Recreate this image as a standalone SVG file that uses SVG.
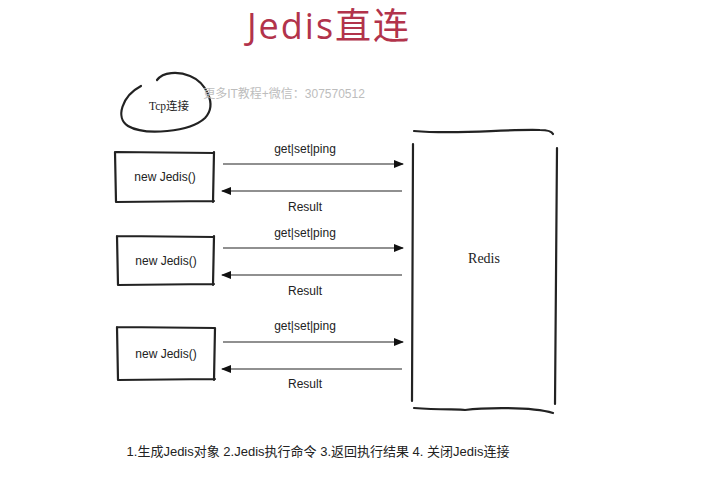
<svg xmlns="http://www.w3.org/2000/svg" width="718" height="485" viewBox="0 0 718 485">
<defs>
<marker id="ah" markerWidth="10" markerHeight="8" refX="9" refY="4" orient="auto" markerUnits="userSpaceOnUse">
<path d="M0,0 L10,4 L0,8 z" fill="#111"/>
</marker>
<style>
.sk{fill:none;stroke:#222;stroke-width:2.2;stroke-linecap:round}
.ln{stroke:#222;stroke-width:1.1;fill:none}
.lbl{font-family:"Helvetica","Liberation Sans",Arial,sans-serif;font-size:12px;fill:#222;text-anchor:middle}
.ser{font-family:"Liberation Serif","Noto Sans CJK SC",serif;fill:#222;text-anchor:middle}
</style>
</defs>
<rect width="718" height="485" fill="#fff"/>
<text x="329" y="39" font-family="'Open Sans','Noto Sans CJK SC',sans-serif" font-size="36" letter-spacing="2" fill="#b2334b" text-anchor="middle">Jedis直连</text>
<g id="tcp">
<path class="sk" d="M141,86 C122,96 115,118 128,126 C145,136 190,132 205,118 C218,104 205,82 190,76 C178,71 163,72 157,80" stroke-width="2.6"/>
<text class="ser" x="169" y="110" font-size="11.5">Tcp连接</text>
</g>
<text x="284" y="98" font-family="'Liberation Sans','Noto Sans CJK SC',sans-serif" font-size="12" fill="#bdbdbd" text-anchor="middle">更多IT教程+微信：307570512</text>
<g id="client1">
<path class="sk" d="M116,152 L214,153 M115,152 L116,202 M214,152 L213,202 M116,202 L214,201"/>
<text class="lbl" x="165" y="181">new Jedis()</text>
</g>
<g id="client2">
<path class="sk" d="M117,236 L214,237 M117,236 L118,285 M214,236 L213,285 M118,285 L214,284"/>
<text class="lbl" x="166" y="265">new Jedis()</text>
</g>
<g id="client3">
<path class="sk" d="M117,327 L215,328 M117,327 L118,380 M215,328 L214,380 M118,380 L215,379"/>
<text class="lbl" x="166" y="358">new Jedis()</text>
</g>
<g id="redis">
<path class="sk" d="M414,131 C460,135 500,129 540,130 C548,130 552,132 553,134"/>
<path class="sk" d="M413,144 L412,401"/>
<path class="sk" d="M557,148 L555,404"/>
<path class="sk" d="M414,408 C440,410 460,409 465,410 C480,408 530,406 553,413"/>
<text class="ser" x="484" y="263" font-size="14">Redis</text>
</g>
<g id="connectors">
<line class="ln" x1="223" y1="164" x2="403" y2="164" marker-end="url(#ah)"/>
<line class="ln" x1="402" y1="191" x2="222" y2="191" marker-end="url(#ah)"/>
<line class="ln" x1="223" y1="248" x2="403" y2="248" marker-end="url(#ah)"/>
<line class="ln" x1="402" y1="275" x2="222" y2="275" marker-end="url(#ah)"/>
<line class="ln" x1="223" y1="342" x2="403" y2="342" marker-end="url(#ah)"/>
<line class="ln" x1="402" y1="369" x2="222" y2="369" marker-end="url(#ah)"/>
<text class="lbl" x="305" y="153">get|set|ping</text>
<text class="lbl" x="305" y="211">Result</text>
<text class="lbl" x="305" y="237">get|set|ping</text>
<text class="lbl" x="305" y="295">Result</text>
<text class="lbl" x="305" y="330">get|set|ping</text>
<text class="lbl" x="305" y="388">Result</text>
</g>
<text x="318" y="456" font-family="'Liberation Sans','Noto Sans CJK SC',sans-serif" font-size="13" fill="#222" text-anchor="middle">1.生成Jedis对象 2.Jedis执行命令 3.返回执行结果 4. 关闭Jedis连接</text>
</svg>
